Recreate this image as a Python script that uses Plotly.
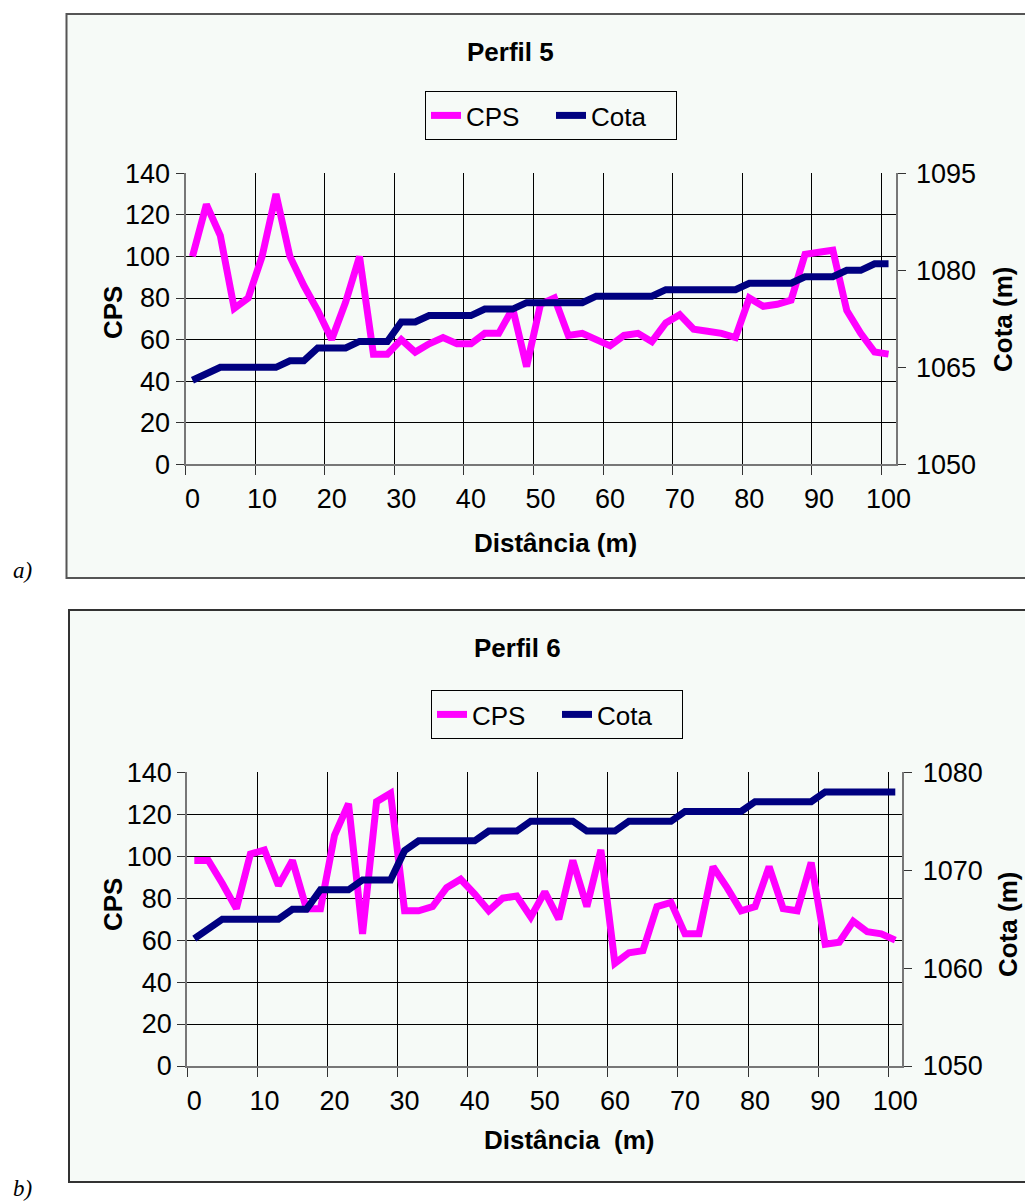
import plotly.graph_objects as go

W, H = 1025, 1202

# ---------------- data ----------------
distancia = [0, 2, 4, 6, 8, 10, 12, 14, 16, 18, 20, 22, 24, 26, 28, 30, 32, 34, 36, 38,
             40, 42, 44, 46, 48, 50, 52, 54, 56, 58, 60, 62, 64, 66, 68, 70, 72, 74, 76, 78,
             80, 82, 84, 86, 88, 90, 92, 94, 96, 98, 100]

cps_perfil5 = [100, 125, 110, 75, 80, 100, 130, 100, 86, 74, 60, 78, 100, 53, 53, 60, 54, 58, 61, 58,
               58, 63, 63, 75, 47, 77, 80, 62, 63, 60, 57, 62, 63, 59, 68, 72, 65, 64, 63, 61,
               80, 76, 77, 79, 101, 102, 103, 74, 63, 54, 53]

cota_perfil5 = [1063, 1064, 1065, 1065, 1065, 1065, 1065, 1066, 1066, 1068, 1068, 1068, 1069, 1069, 1069,
                1072, 1072, 1073, 1073, 1073, 1073, 1074, 1074, 1074, 1075, 1075, 1075, 1075, 1075,
                1076, 1076, 1076, 1076, 1076, 1077, 1077, 1077, 1077, 1077, 1077, 1078, 1078, 1078,
                1078, 1079, 1079, 1079, 1080, 1080, 1081, 1081]

cps_perfil6 = [98, 98, 87, 75, 101, 103, 86, 98, 75, 75, 110, 125, 63, 126, 130, 74, 74, 76, 85, 89,
               82, 74, 80, 81, 71, 83, 70, 98, 76, 103, 49, 54, 55, 76, 78, 63, 63, 95, 85, 74,
               76, 95, 75, 74, 97, 58, 59, 69, 64, 63, 60]

cota_perfil6 = [1063, 1064, 1065, 1065, 1065, 1065, 1065, 1066, 1066, 1068, 1068, 1068, 1069, 1069, 1069,
                1072, 1073, 1073, 1073, 1073, 1073, 1074, 1074, 1074, 1075, 1075, 1075, 1075, 1074,
                1074, 1074, 1075, 1075, 1075, 1075, 1076, 1076, 1076, 1076, 1076, 1077, 1077, 1077,
                1077, 1077, 1078, 1078, 1078, 1078, 1078, 1078]

x_labels = [0, 10, 20, 30, 40, 50, 60, 70, 80, 90, 100]
x_bounds = [-1, 9, 19, 29, 39, 49, 59, 69, 79, 89, 99]   # category boundaries (tick marks / grid)
x_range = [-1, 101]

cps_ticks = [0, 20, 40, 60, 80, 100, 120, 140]
cota5_ticks = [1050, 1065, 1080, 1095]
cota6_ticks = [1050, 1060, 1070, 1080]

# ---------------- style ----------------
MAGENTA = "#FF00FF"
NAVY = "#000080"
BG = "#F6FAF7"
FONT = "Liberation Sans, Arial, sans-serif"
TICKFONT = dict(family=FONT, size=27, color="black")
LW = 7


def px_x(p):
    return p / W


def px_y(p):
    return 1 - p / H


fig = go.Figure()

# Panel a
fig.add_trace(go.Scatter(x=distancia, y=cps_perfil5, name="CPS", mode="lines",
                         line=dict(color=MAGENTA, width=LW), xaxis="x", yaxis="y",
                         legend="legend"))
fig.add_trace(go.Scatter(x=distancia, y=cota_perfil5, name="Cota", mode="lines",
                         line=dict(color=NAVY, width=LW), xaxis="x2", yaxis="y2",
                         legend="legend"))
# Panel b
fig.add_trace(go.Scatter(x=distancia, y=cps_perfil6, name="CPS", mode="lines",
                         line=dict(color=MAGENTA, width=LW), xaxis="x3", yaxis="y3",
                         legend="legend2"))
fig.add_trace(go.Scatter(x=distancia, y=cota_perfil6, name="Cota", mode="lines",
                         line=dict(color=NAVY, width=LW), xaxis="x4", yaxis="y4",
                         legend="legend2"))

dom_a_x = [px_x(185.5), px_x(895.5)]
dom_a_y = [px_y(464.3), px_y(173.3)]
dom_b_x = [px_x(187.3), px_x(902.3)]
dom_b_y = [px_y(1066), px_y(772.3)]

grid_x = dict(range=x_range, tickmode="array", tickvals=x_bounds, ticktext=[""] * len(x_bounds),
              showgrid=True, gridcolor="#000000", gridwidth=1, ticks="outside", ticklen=9,
              tickcolor="#333333", showline=True, linecolor="#777777", linewidth=2,
              zeroline=False, fixedrange=True, automargin=False)
label_x = dict(range=x_range, tickmode="array", tickvals=x_labels, ticks="", showgrid=False,
               showline=False, zeroline=False, tickfont=TICKFONT, ticklabelstandoff=16,
               fixedrange=True, automargin=False)
left_y = dict(range=[0, 140], tickmode="array", tickvals=cps_ticks, showgrid=True,
              gridcolor="#000000", gridwidth=1, ticks="outside", ticklen=8, tickcolor="#333333",
              showline=True, linecolor="#777777", linewidth=2, zeroline=False,
              tickfont=TICKFONT, fixedrange=True, automargin=False)
right_y = dict(side="right", showgrid=False, ticks="outside", ticklen=8, tickcolor="#333333",
               showline=True, linecolor="#777777", linewidth=2, zeroline=False,
               tickfont=TICKFONT, tickmode="array", ticklabelstandoff=5, fixedrange=True,
               automargin=False)

LEG = dict(orientation="h", xanchor="center", yanchor="top",
           bgcolor=BG, bordercolor="black", borderwidth=1,
           font=dict(family=FONT, size=26, color="black"),
           itemwidth=30, tracegroupgap=0, entrywidth=80, entrywidthmode="pixels")

fig.update_layout(
    width=W, height=H,
    margin=dict(l=0, r=0, t=0, b=0, pad=0, autoexpand=False),
    paper_bgcolor="white",
    plot_bgcolor="rgba(0,0,0,0)",
    xaxis=dict(domain=dom_a_x, anchor="y", **grid_x),
    xaxis2=dict(domain=dom_a_x, anchor="y", overlaying="x", side="bottom", **label_x),
    yaxis=dict(domain=dom_a_y, anchor="x", **left_y),
    yaxis2=dict(domain=dom_a_y, anchor="x", overlaying="y", range=[1050, 1095],
                tickvals=cota5_ticks, **right_y),
    xaxis3=dict(domain=dom_b_x, anchor="y3", **grid_x),
    xaxis4=dict(domain=dom_b_x, anchor="y3", overlaying="x3", side="bottom", **label_x),
    yaxis3=dict(domain=dom_b_y, anchor="x3", **left_y),
    yaxis4=dict(domain=dom_b_y, anchor="x3", overlaying="y3", range=[1050, 1080],
                tickvals=cota6_ticks, **right_y),
    legend=dict(x=px_x(551), y=px_y(91), **LEG),
    legend2=dict(x=px_x(557), y=px_y(690), **LEG),
    showlegend=True,
)

# Frames of the two chart areas
fig.add_shape(type="rect", xref="paper", yref="paper", x0=px_x(66.5), x1=1.02,
              y0=px_y(578), y1=px_y(14), line=dict(color="#555555", width=2),
              fillcolor=BG, layer="below")
fig.add_shape(type="rect", xref="paper", yref="paper", x0=px_x(69), x1=1.02,
              y0=px_y(1182), y1=px_y(610), line=dict(color="#333333", width=2),
              fillcolor=BG, layer="below")

BOLD = dict(family=FONT, size=26, color="black", weight="bold")


def ann(text, x, y, angle=0, font=BOLD, xanchor="center"):
    fig.add_annotation(text=text, x=px_x(x), y=px_y(y), xref="paper", yref="paper",
                       showarrow=False, textangle=angle, font=font,
                       xanchor=xanchor, yanchor="middle")


ann("<b>Perfil 5</b>", 510, 52)
ann("<b>Perfil 6</b>", 517, 648)
ann("<b>CPS</b>", 113, 313, -90)
ann("<b>CPS</b>", 113, 905, -90)
ann("<b>Cota (m)</b>", 1003, 320, -90)
ann("<b>Cota (m)</b>", 1008, 925, -90)
ann("<b>Distância (m)</b>", 555, 543)
ann("<b>Distância  (m)</b>", 569, 1140)
ITAL = dict(family="Liberation Serif, Times New Roman, serif", size=23, color="black", style="italic")
ann("a)", 22, 570, font=ITAL)
ann("b)", 22, 1188, font=ITAL)

fig.write_html("out.html")
